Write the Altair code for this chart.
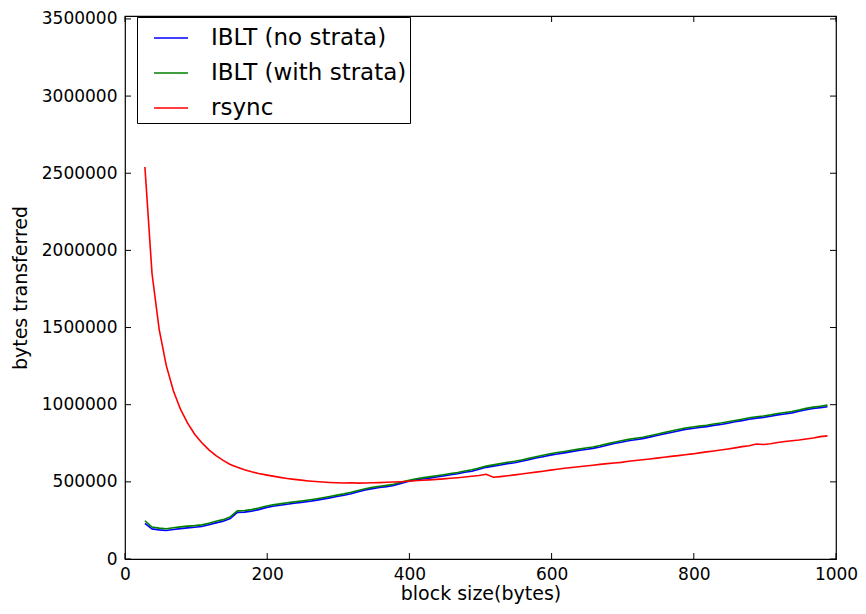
import altair as alt
import pandas as pd

# block size (bytes)
block_size = [28, 38, 48, 58, 68, 78, 88, 98, 108, 118,
              128, 138, 148, 158, 168, 178, 188, 198, 208, 218,
              228, 238, 248, 258, 268, 278, 288, 298, 308, 318,
              328, 338, 348, 358, 368, 378, 388, 398, 408, 418,
              428, 438, 448, 458, 468, 478, 488, 498, 508, 518,
              528, 538, 548, 558, 568, 578, 588, 598, 608, 618,
              628, 638, 648, 658, 668, 678, 688, 698, 708, 718,
              728, 738, 748, 758, 768, 778, 788, 798, 808, 818,
              828, 838, 848, 858, 868, 878, 888, 898, 908, 918,
              928, 938, 948, 958, 968, 978, 988]

# bytes transferred, in thousands
iblt_no_strata = [231, 195, 189, 185, 191, 197, 202, 206, 211, 222,
                  234, 245, 262, 302, 304, 310, 320, 333, 342, 348,
                  355, 361, 367, 373, 380, 388, 396, 405, 413, 423,
                  436, 447, 456, 463, 469, 476, 490, 503, 512, 518,
                  524, 531, 538, 546, 553, 562, 569, 582, 594, 602,
                  609, 618, 624, 633, 643, 654, 663, 673, 681, 688,
                  696, 703, 710, 717, 726, 737, 748, 757, 766, 773,
                  780, 790, 800, 810, 820, 830, 840, 846, 852, 858,
                  866, 872, 880, 889, 897, 906, 913, 918, 925, 934,
                  940, 947, 957, 967, 975, 981, 987]

iblt_with_strata = [248, 207, 200, 196, 202, 208, 213, 216, 221, 232,
                    244, 255, 273, 312, 314, 320, 330, 342, 351, 357,
                    364, 370, 376, 382, 389, 397, 405, 414, 422, 432,
                    444, 455, 464, 471, 477, 484, 497, 509, 519, 526,
                    532, 539, 546, 554, 561, 570, 578, 590, 602, 610,
                    618, 627, 633, 642, 652, 663, 672, 682, 690, 697,
                    705, 712, 719, 726, 735, 746, 757, 766, 775, 782,
                    789, 799, 809, 819, 829, 839, 849, 855, 861, 867,
                    875, 881, 889, 898, 906, 915, 922, 927, 934, 943,
                    949, 956, 966, 976, 984, 990, 997]

rsync = [2540, 1850, 1490, 1255, 1090, 971, 880, 809, 753, 707,
         670, 639, 613, 594, 578, 565, 554, 545, 537, 529,
         522, 516, 511, 506, 502, 499, 496, 494, 493, 494,
         492, 493, 494, 495, 497, 499, 501, 504, 507, 510,
         513, 516, 519, 523, 527, 531, 536, 541, 549, 530,
         534, 539, 545, 551, 557, 563, 569, 576, 582, 588,
         593, 598, 603, 608, 613, 618, 622, 626, 633, 638,
         643, 648, 654, 659, 665, 670, 676, 681, 688, 694,
         700, 706, 713, 720, 728, 734, 745, 742, 747, 755,
         761, 766, 771, 778, 784, 793, 798]

series_names = ["IBLT (no strata)", "IBLT (with strata)", "rsync"]
series_colors = ["#0000ff", "#008000", "#ff0000"]
x_ticks = [0, 200, 400, 600, 800, 1000]
y_ticks = [0, 500000, 1000000, 1500000, 2000000, 2500000, 3000000, 3500000]

rows = []
for name, vals in zip(series_names, [iblt_no_strata, iblt_with_strata, rsync]):
    for b, v in zip(block_size, vals):
        rows.append({"block": b, "bytes": v * 1000, "series": name})
df = pd.DataFrame(rows)

W, H = 711, 543
FONT = "DejaVu Sans"
xscale = alt.Scale(domain=[0, 1000], nice=False, zero=False)
yscale = alt.Scale(domain=[0, 3519000], nice=False, zero=False)

x_axis = alt.Axis(values=x_ticks, format="d", title="block size(bytes)", domain=False,
                  ticks=False, grid=False, labelFontSize=17, labelFont=FONT,
                  labelColor="black", labelPadding=7, titleFontSize=19,
                  titleFont=FONT, titleFontWeight="normal", titleColor="black",
                  titlePadding=2, labelFlush=False)
y_axis = alt.Axis(values=y_ticks, format="d", title="bytes transferred",
                  domain=False, ticks=False, grid=False, labelFontSize=17,
                  labelFont=FONT, labelColor="black", labelPadding=8,
                  titleFontSize=19, titleFont=FONT, titleFontWeight="normal",
                  titleColor="black", titlePadding=11, labelFlush=False)

lines = alt.Chart(df).mark_line(strokeWidth=1.6, clip=True).encode(
    x=alt.X("block:Q", scale=xscale, axis=x_axis),
    y=alt.Y("bytes:Q", scale=yscale, axis=y_axis),
    color=alt.Color("series:N",
                    scale=alt.Scale(domain=series_names, range=series_colors),
                    legend=alt.Legend(orient="none", legendX=12, legendY=1, title=None,
                                      symbolType="stroke", symbolSize=1156,
                                      symbolStrokeWidth=1.6, labelFontSize=23,
                                      labelFont=FONT, labelColor="black", labelOffset=22,
                                      padding=3, symbolOffset=13, rowPadding=5,
                                      strokeColor="black", fillColor="white",
                                      cornerRadius=0, labelLimit=400)),
)

xt = pd.DataFrame({"t": x_ticks})
yt = pd.DataFrame({"t": y_ticks})

bottom_ticks = alt.Chart(xt).mark_rule(color="black", strokeWidth=1).encode(
    x=alt.X("t:Q", scale=xscale, axis=x_axis), y=alt.value(H), y2=alt.value(H - 6))
top_ticks = alt.Chart(xt).mark_rule(color="black", strokeWidth=1).encode(
    x=alt.X("t:Q", scale=xscale, axis=x_axis), y=alt.value(0), y2=alt.value(6))
left_ticks = alt.Chart(yt).mark_rule(color="black", strokeWidth=1).encode(
    y=alt.Y("t:Q", scale=yscale, axis=y_axis), x=alt.value(0), x2=alt.value(6))
right_ticks = alt.Chart(yt).mark_rule(color="black", strokeWidth=1).encode(
    y=alt.Y("t:Q", scale=yscale, axis=y_axis), x=alt.value(W), x2=alt.value(W - 6))

chart = alt.layer(lines, bottom_ticks, top_ticks, left_ticks, right_ticks).properties(
    width=W, height=H,
    autosize=alt.AutoSizeParams(type="none"),
    padding={"left": 117, "top": 8, "right": 22, "bottom": 47},
    background="white",
).configure_view(stroke="black", strokeWidth=1.2)

chart.save("out.html", embed_options={"renderer": "svg", "actions": False})
